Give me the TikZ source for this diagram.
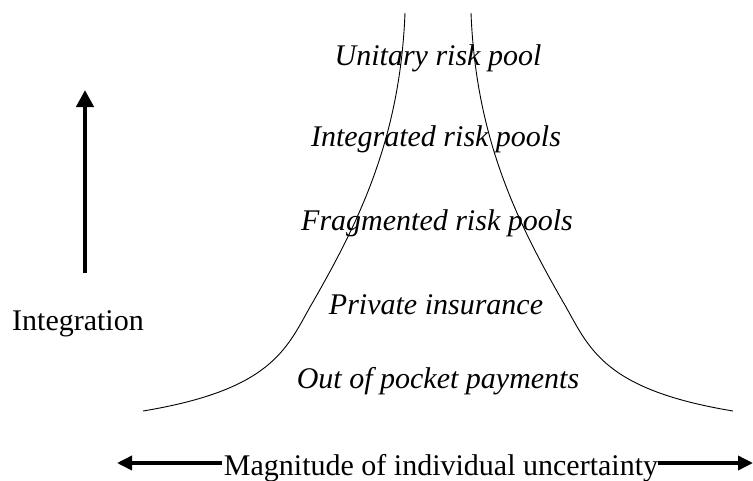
\documentclass[tikz,border=0pt]{standalone}
\usepackage{fontspec}
\setmainfont{Liberation Serif}
\usetikzlibrary{arrows.meta}
\begin{document}
\begin{tikzpicture}[x=1pt,y=-1pt,
  lbl/.style={font=\fontsize{30}{36}\selectfont\itshape, inner sep=0pt, anchor=base},
  plain/.style={font=\fontsize{30}{36}\selectfont, inner sep=0pt, anchor=base},
  curve/.style={line width=0.9pt},
  bigarrow/.style={line width=4.5pt, -{Triangle[length=17pt,width=17pt]}},
  harrow/.style={line width=3.5pt, -{Triangle[length=15pt,width=14pt]}}]
\useasboundingbox (0,0) rectangle (753,480);

% curves
\draw[curve] (405,13) .. controls (400,140) and (358,224) .. (310,307)
                      .. controls (286,350) and (270,390) .. (143,411);
\draw[curve] (471,13) .. controls (476,140) and (518,224) .. (566,307)
                      .. controls (590,350) and (606,390) .. (733,411);

% level labels
\node[lbl] (unitary) at (438,65) {Unitary risk pool};
\node[lbl] (integrated) at (436,146) {Integrated risk pools};
\node[lbl] (fragmented) at (437,230) {Fragmented risk pools};
\node[lbl] (private) at (436,314) {Private insurance};
\node[lbl] (oop) at (438,388) {Out of pocket payments};

% integration axis
\node[plain] (integ) at (78,330) {Integration};
\coordinate (vb) at (85,273);
\coordinate (vt) at (85,90);
\draw[bigarrow] (vb) -- (vt);

% uncertainty axis
\node[plain] (mag) at (441,475) {Magnitude of individual uncertainty};
\coordinate (ml) at (222,463);
\coordinate (mr) at (658,463);
\coordinate (lt) at (117,463);
\coordinate (rt) at (753,463);
\draw[harrow] (ml) -- (lt);
\draw[harrow] (mr) -- (rt);
\end{tikzpicture}
\end{document}
